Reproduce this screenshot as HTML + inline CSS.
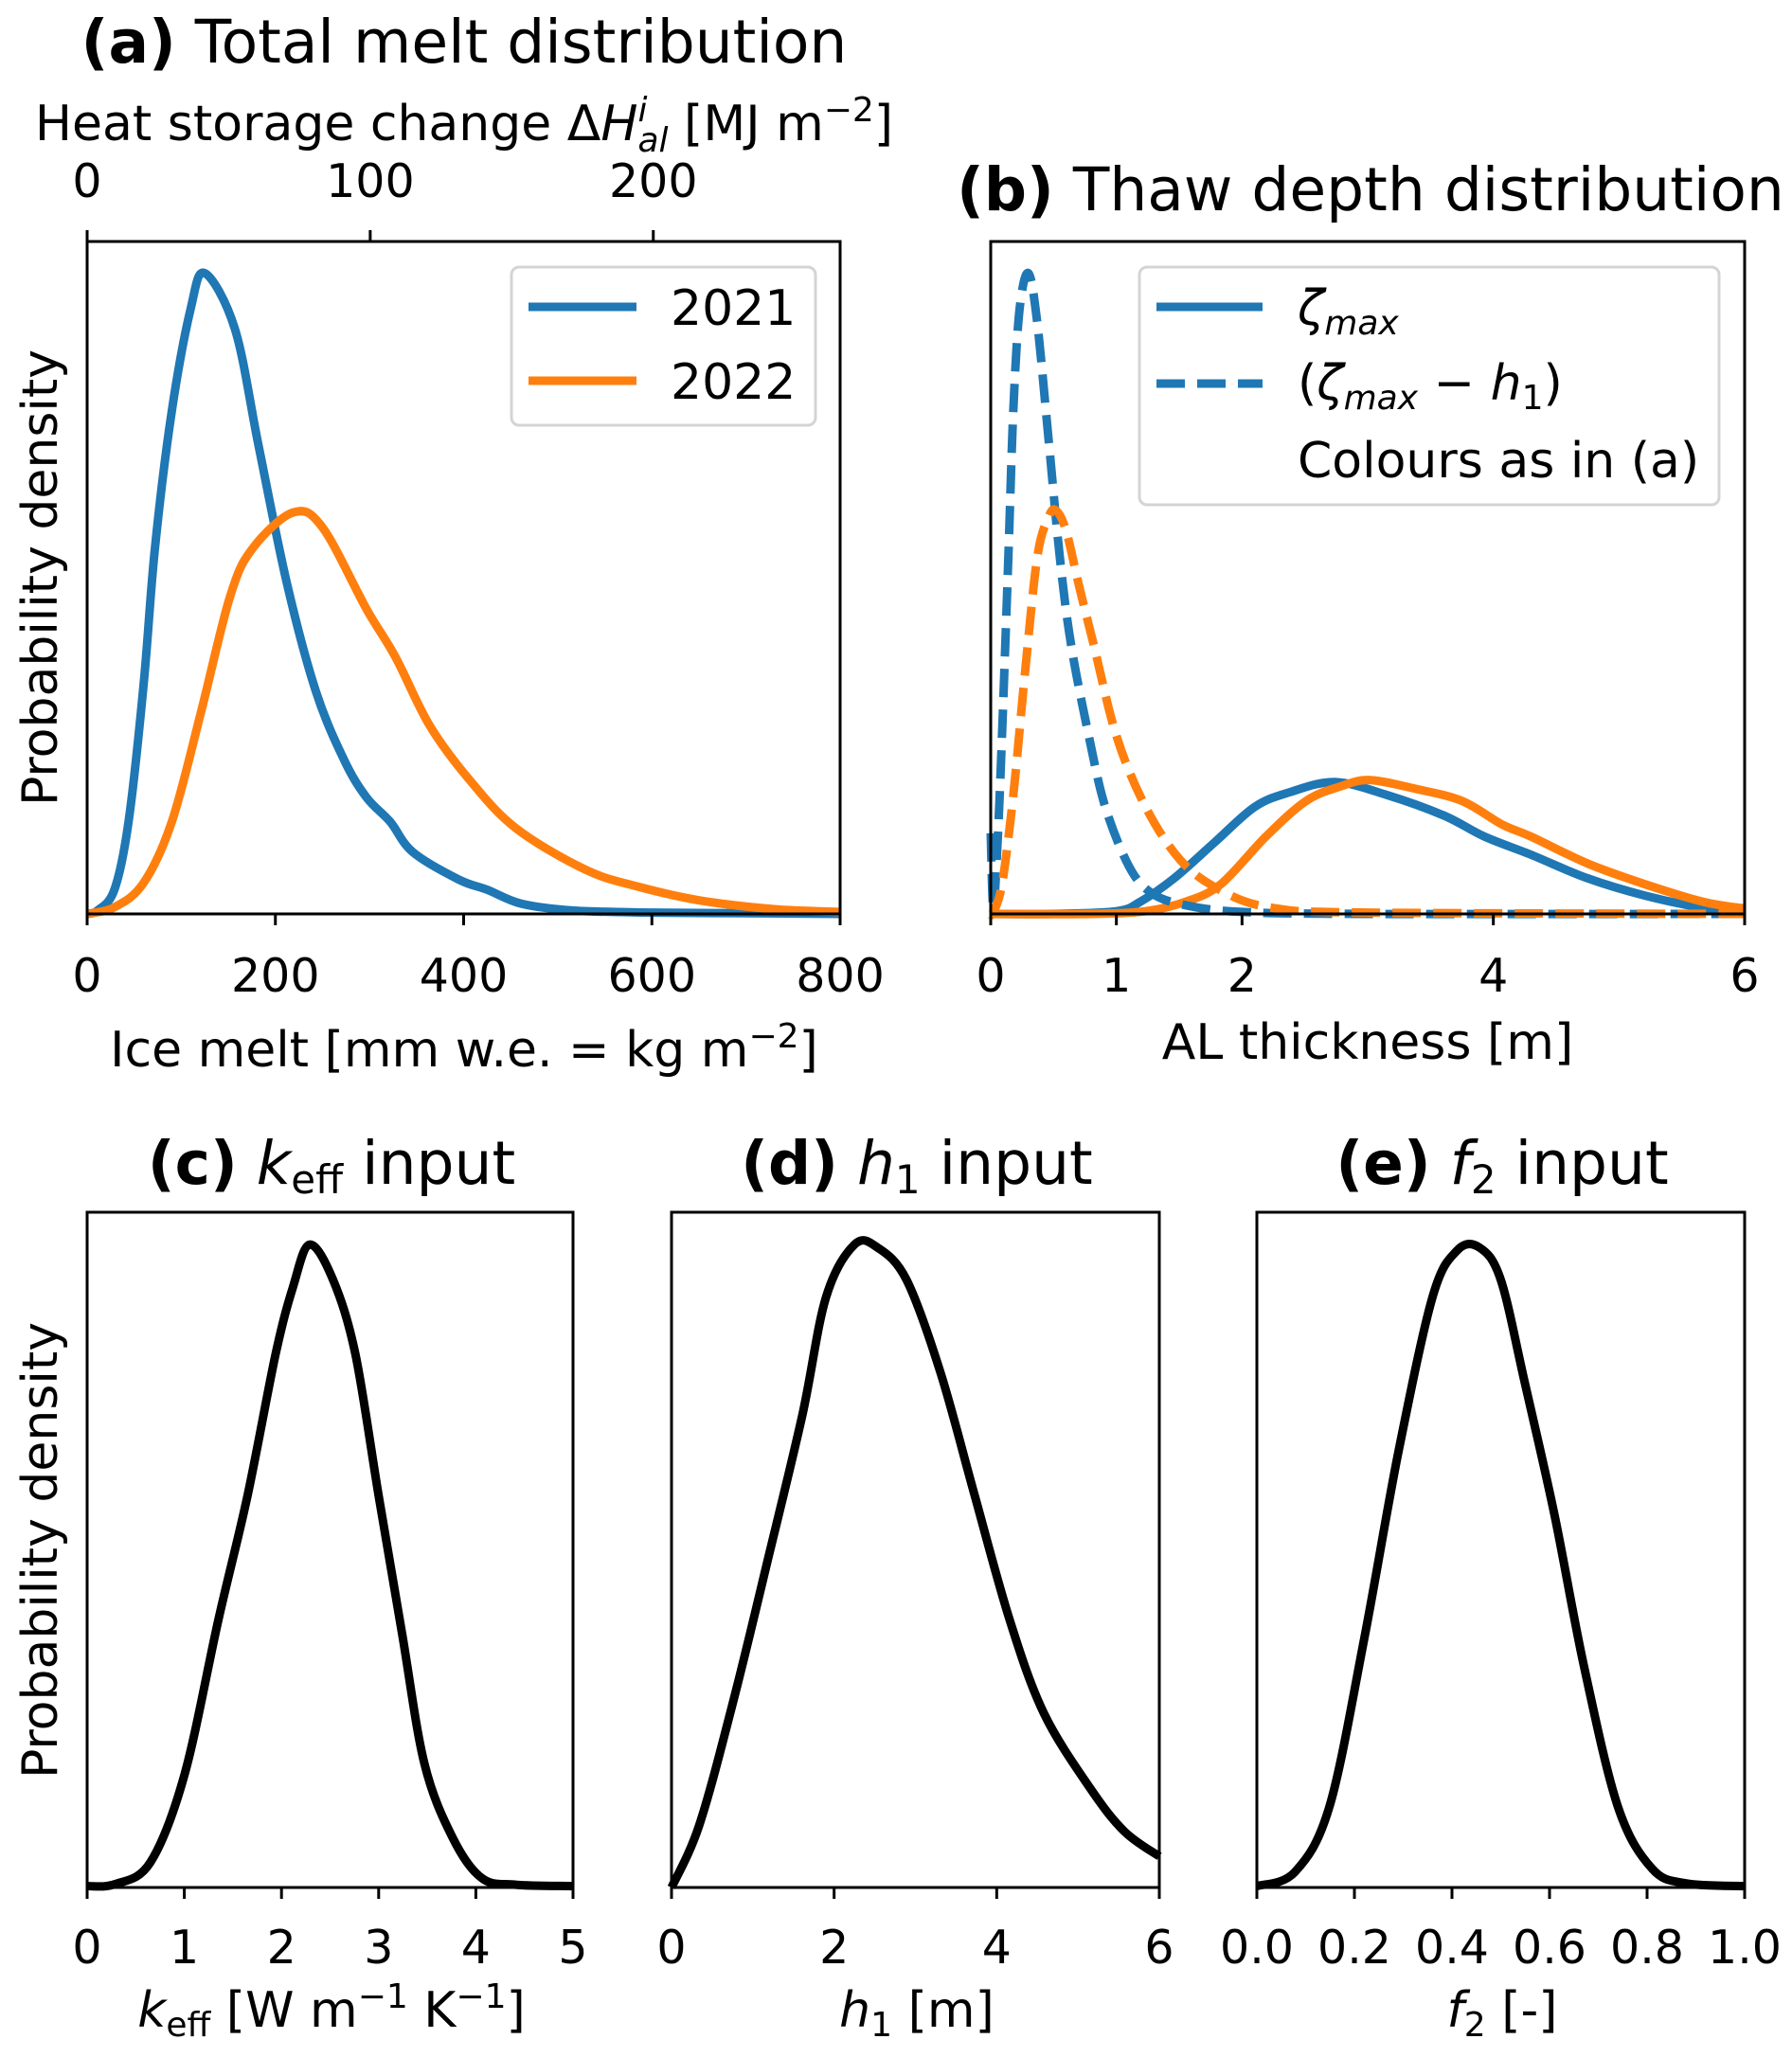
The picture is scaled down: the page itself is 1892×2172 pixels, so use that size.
<!DOCTYPE html>
<html><head><meta charset="utf-8">
<style>
html,body{margin:0;padding:0;background:#fff;}
svg{display:block;}
text{font-family:"DejaVu Sans","Liberation Sans",sans-serif;fill:#000;}
</style></head>
<body>
<svg id="fig" width="1892" height="2172" viewBox="0 0 1892 2172" xmlns="http://www.w3.org/2000/svg"></svg>
<script>
// ---------- data ----------
const melt2021X=[0,11,29,44,60,72,90,110,125,157,182,212,243,273,297,322,346,395,425,462,517,600,700,800];
const melt2021Y=[0,0.005,0.036,0.137,0.341,0.544,0.748,0.90,0.953,0.870,0.697,0.493,0.331,0.229,0.173,0.137,0.092,0.051,0.036,0.015,0.005,0.002,0.001,0];
const melt2022X=[0,29,60,90,121,152,176,219,250,297,328,364,407,456,529,584,651,730,800];
const melt2022Y=[0,0.01,0.046,0.137,0.30,0.473,0.544,0.597,0.575,0.453,0.381,0.28,0.198,0.127,0.066,0.041,0.02,0.007,0.003];
const zd21X=[0,0.02,0.05,0.09,0.14,0.18,0.23,0.30,0.37,0.46,0.55,0.64,0.78,0.91,1.10,1.28,1.55,2.0,3.0,6.0];
const zd21Y=[0.12,0.01,0.088,0.265,0.53,0.75,0.90,0.953,0.88,0.707,0.53,0.40,0.265,0.16,0.071,0.031,0.013,0.003,0,0];
const zd22X=[0,0.02,0.09,0.18,0.27,0.37,0.46,0.52,0.60,0.70,0.82,1.0,1.23,1.51,1.83,2.24,3.0,6.0];
const zd22Y=[0,0.002,0.044,0.177,0.353,0.53,0.59,0.60,0.57,0.49,0.40,0.265,0.16,0.08,0.035,0.009,0.002,0];
const zs21X=[0,0.5,1.0,1.19,1.46,1.78,2.1,2.38,2.74,3.15,3.61,3.93,4.30,4.75,5.21,5.67,6.0];
const zs21Y=[0,0.0,0.004,0.018,0.053,0.106,0.159,0.181,0.196,0.177,0.146,0.115,0.088,0.053,0.027,0.009,0.003];
const zs22X=[0,0.8,1.23,1.55,1.83,2.19,2.51,2.79,3.02,3.38,3.75,4.07,4.30,4.75,5.21,5.67,6.0];
const zs22Y=[0,0,0.004,0.018,0.044,0.115,0.168,0.19,0.199,0.186,0.168,0.133,0.115,0.075,0.044,0.018,0.008];
const keffX=[0,0.29,0.65,1.0,1.35,1.65,1.94,2.12,2.29,2.53,2.76,3.0,3.24,3.47,3.76,4.06,4.41,5.0];
const keffY=[0.002,0.005,0.037,0.166,0.396,0.58,0.79,0.89,0.952,0.90,0.79,0.58,0.377,0.184,0.074,0.014,0.004,0.002];
const h1X=[0,0.34,0.76,1.19,1.61,1.90,2.25,2.53,2.89,3.31,3.73,4.16,4.58,5.15,5.57,6.0];
const h1Y=[0.0,0.092,0.276,0.488,0.70,0.874,0.952,0.948,0.90,0.762,0.58,0.396,0.258,0.147,0.083,0.046];
const f2X=[0,0.078,0.149,0.22,0.29,0.36,0.41,0.456,0.50,0.55,0.61,0.67,0.74,0.81,0.88,1.0];
const f2Y=[0.002,0.023,0.12,0.368,0.644,0.874,0.943,0.948,0.90,0.745,0.552,0.33,0.12,0.028,0.006,0.002];
const ticksA=[0,200,400,600,800];
const ticksATop=[0,100,200];
const ticksB=[0,1,2,4,6];
const ticksC=[0,1,2,3,4,5];
const ticksD=[0,2,4,6];
const ticksE=[0,0.2,0.4,0.6,0.8,1.0];

const NS="http://www.w3.org/2000/svg";
const svg=document.getElementById('fig');
const LW=9, TF=49, LF=52, HF=63;
function mk(tag,attrs,parent){const e=document.createElementNS(NS,tag);for(const k in attrs)e.setAttribute(k,attrs[k]);(parent||svg).appendChild(e);return e;}
function txt(x,y,s,size,anchor,parent){const t=mk('text',{x:x,y:y,'font-size':size,'text-anchor':anchor||'middle'},parent);t.innerHTML=s;return t;}
function smooth(pts){let d='M'+pts[0][0].toFixed(1)+','+pts[0][1].toFixed(1);
 for(let i=0;i<pts.length-1;i++){const p0=pts[Math.max(0,i-1)],p1=pts[i],p2=pts[i+1],p3=pts[Math.min(pts.length-1,i+2)];
  const c1=[p1[0]+(p2[0]-p0[0])/6,p1[1]+(p2[1]-p0[1])/6],c2=[p2[0]-(p3[0]-p1[0])/6,p2[1]-(p3[1]-p1[1])/6];
  d+=' C'+c1[0].toFixed(1)+','+c1[1].toFixed(1)+' '+c2[0].toFixed(1)+','+c2[1].toFixed(1)+' '+p2[0].toFixed(1)+','+p2[1].toFixed(1);}
 return d;}
function axes(name,L,R,T,B,xmax){
 const g=mk('g',{});
 
 
 const sx=v=>L+v/xmax*(R-L), sy=v=>B-v*(B-T);
 return {g,sx,sy,L,R,T,B};
}
function series(ax,xs,ys,color,name,dash){
 const pts=xs.map((x,i)=>[ax.sx(x),ax.sy(ys[i])]);
 const p=mk('path',{d:smooth(pts),fill:'none',stroke:color,'stroke-width':LW,'stroke-linejoin':'round'},ax.g);
 if(dash)p.setAttribute('stroke-dasharray','30,13');
 
 
}
function frame(ax){
 mk('rect',{x:ax.L,y:ax.T,width:ax.R-ax.L,height:ax.B-ax.T,fill:'none',stroke:'#000','stroke-width':3},ax.g);
}
function xticks(ax,ticks,xmax,labelY,fmt){
 ticks.forEach(t=>{const x=ax.L+t/xmax*(ax.R-ax.L);
  mk('line',{x1:x,y1:ax.B,x2:x,y2:ax.B+12,stroke:'#000','stroke-width':3},ax.g);
  const lb=txt(x,labelY,fmt?fmt(t):String(t),TF,'middle',ax.g);
  
  
 });
}
const C1='#1f77b4',C2='#ff7f0e';

// ---------- panel a ----------
const a=axes('panel-a',92,887,255,965,800);
series(a,melt2021X,melt2021Y,C1,'line-2021');
series(a,melt2022X,melt2022Y,C2,'line-2022');
frame(a);
xticks(a,ticksA,800,1047);
ticksATop.forEach(t=>{const x=a.L+t/266*(a.R-a.L);
 mk('line',{x1:x,y1:a.T,x2:x,y2:a.T-12,stroke:'#000','stroke-width':3},a.g);
 const lb=txt(x,208,String(t),TF,'middle',a.g);
 
 
});
let t;
t=txt(490,66,'<tspan font-weight="bold">(a)</tspan> Total melt distribution',HF);

t=txt(490,148,'Heat storage change Δ<tspan font-style="italic">H</tspan><tspan font-style="italic" font-size="36" dy="-20">i</tspan><tspan font-style="italic" font-size="36" dx="-10" dy="32">al</tspan><tspan dy="-12"> [MJ m</tspan><tspan font-size="36" dy="-20">−2</tspan><tspan dy="20">]</tspan>',LF);

t=txt(490,1126,'Ice melt [mm w.e. = kg m<tspan font-size="36" dy="-20">−2</tspan><tspan dy="20">]</tspan>',LF);

t=txt(0,0,'Probability density',LF);t.setAttribute('transform','translate(60,610) rotate(-90)');

// legend a
const lga=mk('g',{});


mk('rect',{x:540,y:282,width:321,height:167,rx:8,fill:'#fff',stroke:'#d0d0d0','stroke-width':3,opacity:0.9},lga);
mk('line',{x1:558,y1:324,x2:672,y2:324,stroke:C1,'stroke-width':LW},lga);
mk('line',{x1:558,y1:402,x2:672,y2:402,stroke:C2,'stroke-width':LW},lga);
txt(708,343,'2021',LF,'start',lga);
txt(708,421,'2022',LF,'start',lga);

// ---------- panel b ----------
const b=axes('panel-b',1046,1842,255,965,6);
series(b,zs21X,zs21Y,C1,'line-zeta-2021');
series(b,zs22X,zs22Y,C2,'line-zeta-2022');
series(b,zd21X,zd21Y,C1,'line-zeta-minus-h1-2021',true);
series(b,zd22X,zd22Y,C2,'line-zeta-minus-h1-2022',true);
frame(b);
xticks(b,ticksB,6,1047);
t=txt(1447,222,'<tspan font-weight="bold">(b)</tspan> Thaw depth distribution',HF);

t=txt(1444,1118,'AL thickness [m]',LF);

const lgb=mk('g',{});


mk('rect',{x:1203,y:282,width:612,height:251,rx:8,fill:'#fff',stroke:'#d0d0d0','stroke-width':3,opacity:0.9},lgb);
mk('line',{x1:1221,y1:324,x2:1333,y2:324,stroke:C1,'stroke-width':LW},lgb);
mk('line',{x1:1221,y1:405,x2:1333,y2:405,stroke:C1,'stroke-width':LW,'stroke-dasharray':'30,13'},lgb);
txt(1370,343,'<tspan font-style="italic">ζ</tspan><tspan font-style="italic" font-size="36" dy="10">max</tspan>',LF,'start',lgb);
txt(1370,422,'(<tspan font-style="italic">ζ</tspan><tspan font-style="italic" font-size="36" dy="10">max</tspan><tspan dy="-10"> − </tspan><tspan font-style="italic">h</tspan><tspan font-size="36" dy="10">1</tspan><tspan dy="-10">)</tspan>',LF,'start',lgb);
txt(1370,504,'Colours as in (a)',LF,'start',lgb);

// ---------- bottom panels ----------
const c=axes('panel-c',92,605,1280,1993,5);
series(c,keffX,keffY,'#000','line-keff');frame(c);xticks(c,ticksC,5,2073);
const d=axes('panel-d',709,1224,1280,1993,6);
series(d,h1X,h1Y,'#000','line-h1');frame(d);xticks(d,ticksD,6,2073);
const e=axes('panel-e',1327,1842,1280,1993,1);
series(e,f2X,f2Y,'#000','line-f2');frame(e);xticks(e,ticksE,1,2073,v=>v.toFixed(1));

t=txt(350,1250,'<tspan font-weight="bold">(c)</tspan> <tspan font-style="italic">k</tspan><tspan font-size="42" dy="10">eff</tspan><tspan dy="-10"> input</tspan>',HF);

t=txt(968,1250,'<tspan font-weight="bold">(d)</tspan> <tspan font-style="italic">h</tspan><tspan font-size="42" dy="10">1</tspan><tspan dy="-10"> input</tspan>',HF);

t=txt(1586,1250,'<tspan font-weight="bold">(e)</tspan> <tspan font-style="italic">f</tspan><tspan font-size="42" dy="10">2</tspan><tspan dy="-10"> input</tspan>',HF);


t=txt(350,2140,'<tspan font-style="italic">k</tspan><tspan font-size="36" dy="10">eff</tspan><tspan dy="-10"> [W m</tspan><tspan font-size="36" dy="-20">−1</tspan><tspan dy="20"> K</tspan><tspan font-size="36" dy="-20">−1</tspan><tspan dy="20">]</tspan>',LF);

t=txt(968,2140,'<tspan font-style="italic">h</tspan><tspan font-size="36" dy="10">1</tspan><tspan dy="-10"> [m]</tspan>',LF);

t=txt(1586,2140,'<tspan font-style="italic">f</tspan><tspan font-size="36" dy="10">2</tspan><tspan dy="-10"> [-]</tspan>',LF);

t=txt(0,0,'Probability density',LF);t.setAttribute('transform','translate(60,1637) rotate(-90)');

</script>
</body></html>
